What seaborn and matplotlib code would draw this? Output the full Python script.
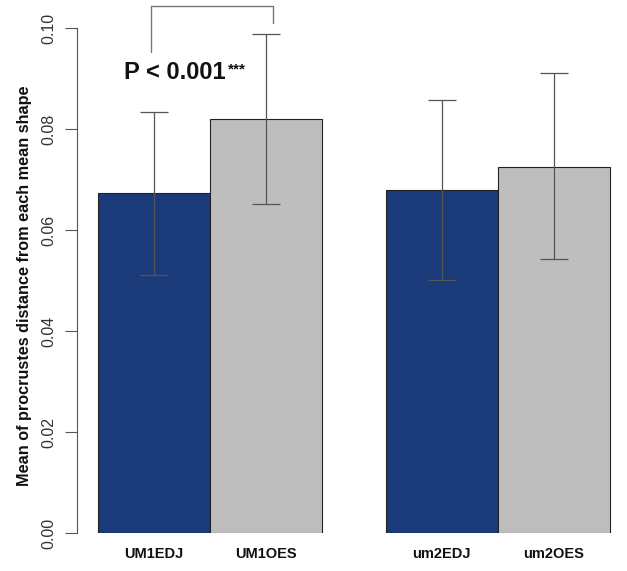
import matplotlib
matplotlib.use("Agg")
import matplotlib.pyplot as plt
import seaborn as sns
import numpy as np
import pandas as pd

categories = ["UM1EDJ", "UM1OES", "um2EDJ", "um2OES"]
means = [0.0673, 0.0819, 0.0679, 0.0725]
err_low = [0.0511, 0.0651, 0.0501, 0.0542]
err_high = [0.0833, 0.0988, 0.0857, 0.0911]
colors = ["#1b3a7a", "#bebebe", "#1b3a7a", "#bebebe"]
yticks = [0.00, 0.02, 0.04, 0.06, 0.08, 0.10]
ptext = "P < 0.001"

sns.set_theme(style="white")
plt.rcParams["font.family"] = ["Liberation Sans", "DejaVu Sans"]

group_gap = 0.57
pos = []
for i in range(len(categories)):
    grp = i // 2
    pos.append(0.5 + i + grp * group_gap)

df = pd.DataFrame({"pos": pos, "mean": means, "cat": categories})

fig = plt.figure(figsize=(6.27, 5.71), dpi=100)
ax = fig.add_axes([77 / 627, 1 - 533 / 571, (612 - 77) / 627, (533 - 28) / 571])

sns.barplot(data=df, x="pos", y="mean", hue="cat", palette=colors, native_scale=True,
            width=1.0, errorbar=None, edgecolor="#222222", linewidth=0.8, legend=False,
            dodge=False, ax=ax, saturation=1)

m = np.array(means)
yerr = np.vstack([m - np.array(err_low), np.array(err_high) - m])
ax.errorbar(pos, means, yerr=yerr, fmt="none", ecolor="#555555", elinewidth=0.9,
            capsize=10, capthick=0.9, zorder=5)

ax.set_xlim(-(98 - 77) / 112, (612 - 98) / 112)
ax.set_ylim(0, 0.10)
ax.set_yticks(yticks)
ax.set_yticklabels([f"{t:.2f}" for t in yticks], rotation=90, va="center", fontsize=11.5, color="#333333")
ax.tick_params(axis="y", left=True, length=9, width=0.8, color="#555555", pad=6)
ax.set_xticks(pos)
ax.set_xticklabels(categories, fontsize=10.5, fontweight="bold", color="#111111")
ax.tick_params(axis="x", bottom=False, pad=4)
ax.set_xlabel("")
ax.set_ylabel("Mean of procrustes distance from each mean shape", fontsize=11.7,
              fontweight="bold", color="#111111")
ax.yaxis.set_label_coords(-0.084, 0.49)
for s in ["top", "right", "bottom"]:
    ax.spines[s].set_visible(False)
ax.spines["left"].set_color("#555555")
ax.spines["left"].set_linewidth(0.8)
ax.spines["left"].set_bounds(0, 0.10)

# significance bracket
xl = pos[0] - 0.03
xr = pos[1] + 0.06
ax.plot([xl, xl, xr, xr], [0.0952, 0.1044, 0.1044, 0.1010], color="#777777", lw=1.0, clip_on=False)
t = ax.text(0.69, 0.0912, ptext, ha="center", va="center", fontsize=17,
            fontweight="bold", color="#111111")
ax.annotate("***", xy=(1.0, 0.62), xycoords=t, xytext=(1, 0), textcoords="offset points",
            ha="left", va="center", fontsize=11, fontweight="bold", color="#111111")

fig.savefig("out.png", dpi=100)
